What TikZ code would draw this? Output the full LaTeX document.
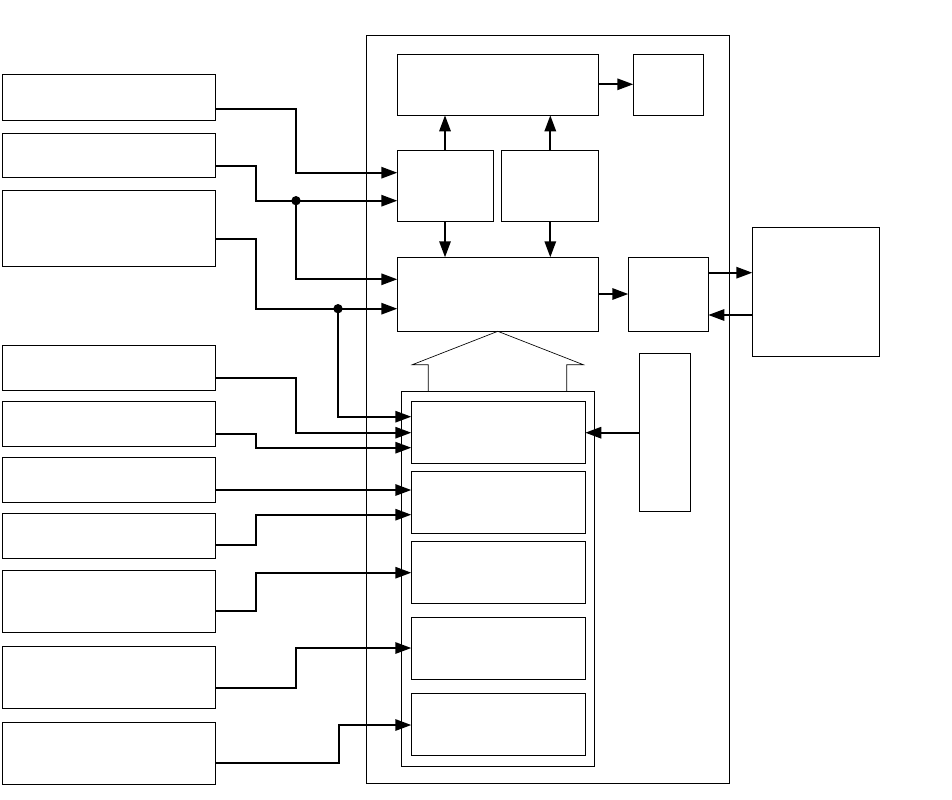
\documentclass[tikz,border=0pt]{standalone}
\usetikzlibrary{arrows.meta}
\tikzset{
  box/.style={draw, line width=0.75pt, inner sep=0pt, outer sep=0pt, rectangle},
  conn/.style={line width=1.5pt, -{Triangle[length=12pt,width=8.5pt]}},
  wire/.style={line width=1.5pt},
  thinline/.style={line width=0.5pt},
}
\newcommand\bx[5]{\node[box, minimum width={(#4-#2)*0.75pt}, minimum height={(#5-#3)*0.75pt}] (#1) at ({(#2+#4)/2},{(#3+#5)/2}) {};}
\begin{document}
\begin{tikzpicture}[x=0.75pt,y=-0.75pt]
\useasboundingbox (0,0) rectangle (952,799);
% left boxes
\bx{L1}{2}{75}{215}{120}
\bx{L2}{2}{133}{215}{177}
\bx{L3}{2}{190}{215}{266}
\bx{L4}{2}{345}{215}{390}
\bx{L5}{2}{401}{215}{446}
\bx{L6}{2}{457}{215}{502}
\bx{L7}{2}{513}{215}{558}
\bx{L8}{2}{570}{215}{632}
\bx{L9}{2}{646}{215}{708}
\bx{L10}{2}{722}{215}{784}
% outer frame
\bx{O}{366.5}{35.5}{729.3}{783.3}
% inner blocks
\bx{A}{397.3}{54.3}{598.3}{115.3}
\bx{B}{633.3}{54.3}{703.3}{115.3}
\bx{C}{397.3}{150.3}{493.3}{221.3}
\bx{D}{501.3}{150.3}{598.3}{221.3}
\bx{E}{397.3}{257.3}{598.3}{331.3}
\bx{F}{628.3}{257.3}{708.3}{331.3}
\bx{G}{752.3}{227.3}{879.3}{356.3}
\bx{H}{639.3}{353.3}{690.3}{511.3}
\bx{K}{401.3}{391.3}{594.3}{766}
\bx{I1}{411.3}{401.3}{585.3}{463.3}
\bx{I2}{411.3}{471.3}{585.3}{533.3}
\bx{I3}{411.3}{541.3}{585.3}{603.3}
\bx{I4}{411.3}{617.3}{585.3}{679.3}
\bx{I5}{411.3}{693.3}{585.3}{755.3}
% hollow arrow
\draw[thinline] (K.north -| 428.3,0) -- (428.3,364.7) -- (412.3,364.7) -- (E.south) -- (583.3,364.7) -- (566.7,364.7) -- (K.north -| 566.7,0);
% junctions
\coordinate (j1) at (296,200.7);
\coordinate (j2) at (338,308.7);
% left connectors
\draw[conn] (L1.east |- 0,108.7) -| (296,172.7) -- (C.west |- 0,172.7);
\draw[wire] (L2.east |- 0,165.7) -| (256,200.7) -- (j1);
\draw[conn] (j1) -- (C.west |- j1);
\draw[conn] (j1) |- (E.west |- 0,279.3);
\draw[wire] (L3.east |- 0,239) -| (256,308.7) -- (j2);
\draw[conn] (j2) -- (E.west |- j2);
\draw[conn] (j2) |- (I1.west |- 0,416.7);
\draw[conn] (L4.east |- 0,377.7) -| (296,432.7) -- (I1.west |- 0,432.7);
\draw[conn] (L5.east |- 0,434) -| (255.7,447.7) -- (I1.west |- 0,447.7);
\draw[conn] (L6.east |- 0,490) -- (I2.west |- 0,490);
\draw[conn] (L7.east |- 0,545) -| (255.7,514.7) -- (I2.west |- 0,514.7);
\draw[conn] (L8.east |- 0,610.7) -| (256,572.7) -- (I3.west |- 0,572.7);
\draw[conn] (L9.east |- 0,687.7) -| (296,648) -- (I4.west |- 0,648);
\draw[conn] (L10.east |- 0,762.7) -| (338.7,725) -- (I5.west |- 0,725);
\fill (j1) circle (3.5pt);
\fill (j2) circle (3.5pt);
% internal connectors
\draw[conn] (C.north -| 445,0) -- (A.south -| 445,0);
\draw[conn] (D.north -| 550.3,0) -- (A.south -| 550.3,0);
\draw[conn] (C.south -| 445,0) -- (E.north -| 445,0);
\draw[conn] (D.south -| 550.3,0) -- (E.north -| 550.3,0);
\draw[conn] (A.east |- 0,84.3) -- (B.west |- 0,84.3);
\draw[conn] (E.east |- 0,294) -- (F.west |- 0,294);
\draw[conn] (F.east |- 0,272.7) -- (G.west |- 0,272.7);
\draw[conn] (G.west |- 0,315) -- (F.east |- 0,315);
\draw[conn] (H.west |- 0,432.7) -- (I1.east |- 0,432.7);
\end{tikzpicture}
\end{document}
